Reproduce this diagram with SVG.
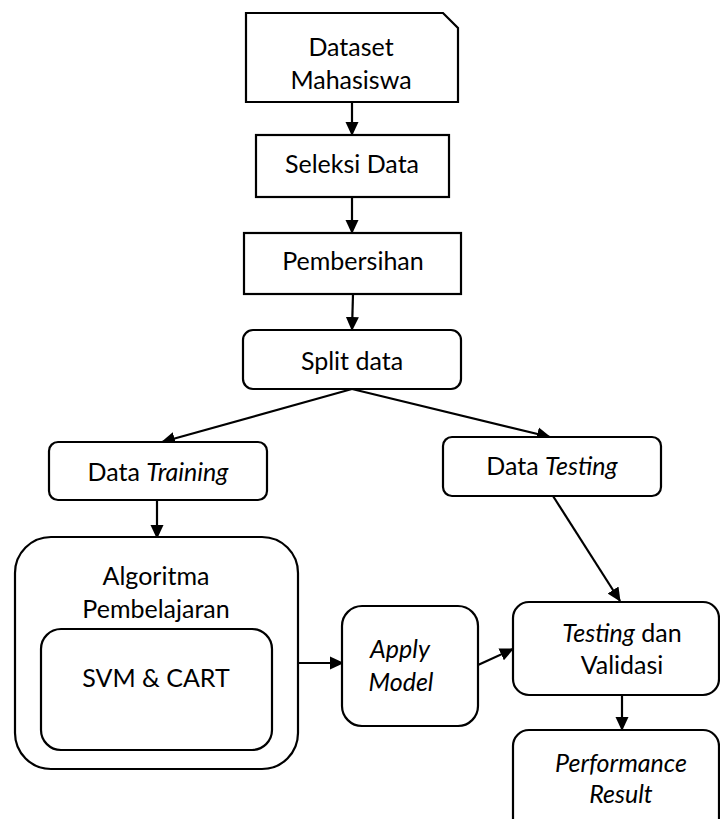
<svg xmlns="http://www.w3.org/2000/svg" width="720" height="819" viewBox="0 0 720 819">
<style>
.box{fill:#fff;stroke:#000;stroke-width:2.2}
.t{font-family:Lato,"Open Sans","Liberation Sans",sans-serif;font-size:25px;fill:#000;text-anchor:middle}
.i{font-style:italic}
.c{stroke:#000;stroke-width:2.2;fill:none;marker-end:url(#ah)}
</style>
<defs>
<marker id="ah" markerUnits="userSpaceOnUse" markerWidth="14" markerHeight="14" viewBox="0 0 14 14" refX="13" refY="7" orient="auto">
<path d="M0,0.5 L14,7 L0,13.5 z" fill="#000"/>
</marker>
</defs>
<rect width="720" height="819" fill="#fff"/>
<g id="connectors">
<line class="c" x1="352" y1="102" x2="352" y2="135"/>
<line class="c" x1="352" y1="197" x2="352" y2="233"/>
<line class="c" x1="353" y1="294" x2="352" y2="330"/>
<line class="c" x1="352" y1="389" x2="162" y2="442"/>
<line class="c" x1="352" y1="389" x2="550" y2="437"/>
<line class="c" x1="157" y1="500" x2="157" y2="538"/>
<line class="c" x1="553" y1="496" x2="620" y2="601"/>
<line class="c" x1="298" y1="663" x2="343" y2="663"/>
<line class="c" x1="478" y1="665" x2="513" y2="649"/>
<line class="c" x1="622" y1="695" x2="622" y2="730"/>
</g>
<g id="dataset">
<path class="box" d="M246,13 H443 L458,28 V102 H246 Z"/>
<text class="t" x="351" y="56">Dataset</text>
<text class="t" x="351" y="89">Mahasiswa</text>
</g>
<g id="seleksi">
<rect class="box" x="256" y="135" width="193" height="62"/>
<text class="t" x="352" y="173">Seleksi Data</text>
</g>
<g id="pembersihan">
<rect class="box" x="244" y="233" width="217" height="61"/>
<text class="t" x="353" y="270">Pembersihan</text>
</g>
<g id="split">
<rect class="box" x="243" y="330" width="218" height="59" rx="10"/>
<text class="t" x="352" y="370">Split data</text>
</g>
<g id="training">
<rect class="box" x="49" y="442" width="218" height="58" rx="9"/>
<text class="t" x="158" y="481">Data <tspan class="i">Training</tspan></text>
</g>
<g id="testing">
<rect class="box" x="443" y="437" width="218" height="59" rx="9"/>
<text class="t" x="552" y="475">Data <tspan class="i">Testing</tspan></text>
</g>
<g id="algoritma">
<rect class="box" x="15" y="537" width="283" height="232" rx="36"/>
<text class="t" x="156" y="585">Algoritma</text>
<text class="t" x="156" y="618">Pembelajaran</text>
</g>
<g id="svmcart">
<rect class="box" x="41" y="629" width="231" height="121" rx="20"/>
<text class="t" x="156" y="687">SVM &amp; CART</text>
</g>
<g id="apply">
<rect class="box" x="342" y="606" width="136" height="120" rx="20"/>
<text class="t i" x="400" y="658">Apply</text>
<text class="t i" x="401" y="691">Model</text>
</g>
<g id="validasi">
<rect class="box" x="513" y="602" width="206" height="93" rx="16"/>
<text class="t" x="622" y="642"><tspan class="i">Testing</tspan> dan</text>
<text class="t" x="622" y="674">Validasi</text>
</g>
<g id="performance">
<rect class="box" x="513" y="730" width="206" height="110" rx="16"/>
<text class="t i" x="621" y="772">Performance</text>
<text class="t i" x="621" y="803">Result</text>
</g>
</svg>
